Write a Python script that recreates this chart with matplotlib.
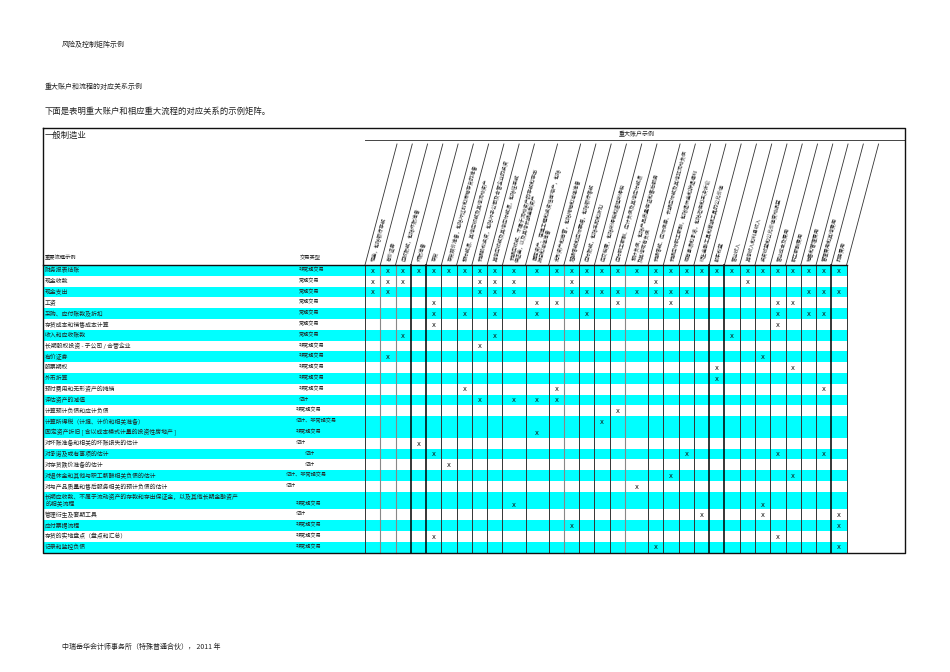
import numpy as np
import matplotlib
matplotlib.use("Agg")
import matplotlib.pyplot as plt
from matplotlib.patches import Rectangle

plt.rcParams['font.family'] = ['Noto Sans CJK SC', 'DejaVu Sans']

# 重要流程示例 / 交易类型
processes = [
    "财务报表结账", "现金收款", "现金支出", "工资", "采购、应付账款及折扣",
    "存货成本和销售成本计算", "收入和应收账款", "长期股权投资 - 子公司 / 合营企业",
    "有价证券", "股票期权", "外币折算", "预付费用和无形资产的摊销", "评估资产的减值",
    "计算预计负债和应计负债", "计算所得税（计提、计价和相关准备）",
    "固定资产折旧 [ 含以成本模式计量的投资性房地产 ]", "对坏账准备和相关的坏账损失的估计",
    "对承诺及或有事项的估计", "对存货跌价准备的估计",
    "对退休金和其他与职工薪酬相关负债的估计", "对与产品质量和售后服务相关的预计负债的估计",
    "长期应收款、不属于流动资产的存款和存出保证金，以及其他长期金融资产\n的相关流程",
    "管理衍生及套期工具", "应付票据流程", "存货的实地盘点（盘点和汇总）", "记录和监控负债",
]
types = [
    "非常规交易", "常规交易", "常规交易", "常规交易", "常规交易", "常规交易", "常规交易",
    "非常规交易", "非常规交易", "非常规交易", "非常规交易", "非常规交易", "估计",
    "非常规交易", "估计、非常规交易", "非常规交易", "估计", "估计", "估计",
    "估计、非常规交易", "估计", "非常规交易", "估计", "非常规交易", "非常规交易", "非常规交易",
]

# 重大账户示例 (column headers)
accounts = [
    "现金，包括银行存款", "有价证券", "应收账款，包括坏账准备", "坏账准备", "存货",
    "存货跌价准备，包括对过时和滞销存货的准备", "预付款项、其他应收款及其他流动资产",
    "长期股权投资，包括对子公司及合营企业的投资", "其他应收款及其他应付款项，包括往来款",
    "长期应收款、不属于流动资产的存款和存出\n保证金，以及其他长期金融资产",
    "固定资产、在建工程和投资性房地产，包括\n折旧和减值准备",
    "无形资产和商誉，包括摊销和减值准备", "短期借款和应付票据，包括银行借款",
    "应付账款，包括采购和折扣", "应交税费，包括所得税和递延所得税",
    "应付职工薪酬、应计负债及其他应付款项",
    "预计负债，包括产品质量保证和售后服务\n及其他或有负债",
    "长期借款、应付债券、长期应付款及其他非流动负债",
    "长期应付职工薪酬，包括退休金和辞退福利", "或有事项和承诺，包括担保和未决诉讼",
    "衍生金融工具和套期工具的公允价值", "股东权益", "营业收入", "其他收入和利息收入",
    "投资收益和公允价值变动损益", "营业成本及费用", "职工薪酬费用", "销售和管理费用",
    "管理费用和其他费用", "财务费用",
]

# columns (1-based) marked "x" for each process
marks = [
    list(range(1, 31)),
    [1, 2, 3, 8, 9, 10, 13, 18, 24],
    [1, 2, 8, 9, 10, 13, 14, 15, 16, 17, 18, 19, 20, 28, 29, 30],
    [5, 11, 12, 16, 19, 26, 27],
    [5, 7, 9, 11, 14, 26, 28, 29],
    [5, 26],
    [3, 9, 23],
    [8],
    [2, 25],
    [22, 27],
    [22],
    [7, 12, 29],
    [8, 10, 11, 12],
    [16],
    [15],
    [11],
    [4],
    [5, 20, 26, 29],
    [6],
    [19, 27],
    [17],
    [10, 25],
    [21, 25, 30],
    [13, 30],
    [5, 26],
    [18, 30],
]

# layout (pixels)
cyan_rows = [1, 0, 1, 0, 1, 0, 1, 0, 1, 0, 1, 0, 1, 0, 1, 1, 0, 1, 0, 1, 0, 1, 0, 1, 0, 1]
type_x = [299] * 13 + [296, 296, 296, 296, 305, 305, 286, 286, 296, 296, 296, 296, 296]
col_w = np.full(30, 15.27)
col_w[[9, 10, 16]] = 23.1
bounds = 365 + np.concatenate([[0], np.cumsum(col_w)])
centers = (bounds[:-1] + bounds[1:]) / 2
row_h = np.full(26, 10.8)
row_h[21] = 17.5
row_top = 265 + np.concatenate([[0], np.cumsum(row_h)])
y_bot = row_top[-1]
dx_slant, y_slant = 32, 144

fig = plt.figure(figsize=(9.5, 6.72), dpi=100)
ax = fig.add_axes([0, 0, 1, 1])
ax.set_xlim(0, 950)
ax.set_ylim(672, 0)
ax.axis('off')

txt = '#222222'
ax.text(62, 45, "风险及控制矩阵示例", fontsize=5, color=txt, va='center')
ax.text(45, 87, "重大账户和流程的对应关系示例", fontsize=5, color=txt, va='center')
ax.text(45, 111, "下面是表明重大账户和相应重大流程的对应关系的示例矩阵。", fontsize=6, color=txt, va='center')
ax.text(62, 647, "中瑞岳华会计师事务所（特殊普通合伙）， 2011 年", fontsize=5, color=txt, va='center')

# row bands
for i, c in enumerate(cyan_rows):
    if c:
        ax.add_patch(Rectangle((44, row_top[i]), bounds[-1] - 44, row_h[i],
                               facecolor='#00ffff', edgecolor='none', zorder=0))

# header
ax.text(45, 135, "一般制造业", fontsize=6, color=txt, va='center')
ax.text(637, 134, "重大账户示例", fontsize=4.3, color=txt, ha='center', va='center')
ax.text(45, 258, "重要流程示例", fontsize=3.8, color=txt, va='center')
ax.text(300, 258, "交易类型", fontsize=3.8, color=txt, va='center')
ax.plot([365, 905], [139.5, 139.5], color='#444444', lw=0.7)

ang = np.degrees(np.arctan2(265 - y_slant, dx_slant))
for b in bounds:
    ax.plot([b, b + dx_slant], [265, y_slant], color='#333333', lw=0.6)
for i, name in enumerate(accounts):
    ya = 261.5
    xa = centers[i] + (265 - ya) * dx_slant / (265 - y_slant)
    ax.text(xa, ya, name, rotation=ang, rotation_mode='anchor', ha='left', va='center',
            fontsize=3.6, color=txt, linespacing=1.1)

# column lines in body
gray_idx = {1, 2, 12, 16}
thick_idx = {3, 4, 21, 22, 29}
for k, b in enumerate(bounds):
    if k in thick_idx:
        col, lw = '#000000', 1.1
    elif k in gray_idx:
        col, lw = '#888888', 0.8
    else:
        col, lw = '#333333', 0.7
    ax.plot([b, b], [265, y_bot], color=col, lw=lw)

# borders
ax.plot([43, 905, 905, 43, 43], [128, 128, y_bot, y_bot, 128], color='#111111', lw=1.0)
ax.plot([43, bounds[-1]], [265, 265], color='#111111', lw=1.0)

# row texts and marks
for i in range(26):
    yc = row_top[i] + row_h[i] / 2
    if i == 21:
        ax.text(45, yc, processes[i], fontsize=4.2, color=txt, va='center', linespacing=1.2)
        ty = yc + 3.5
        my = yc + 4
    else:
        ax.text(45, yc, processes[i], fontsize=4.2, color=txt, va='center')
        ty = yc - 0.8
        my = yc + 0.3
    ax.text(type_x[i], ty, types[i], fontsize=3.7, color=txt, va='center')
    for c in marks[i]:
        ax.text(centers[c - 1], my, 'x', fontsize=4.8, family='DejaVu Sans',
                color='#111111', ha='center', va='center')

fig.savefig('out.png', dpi=100)
